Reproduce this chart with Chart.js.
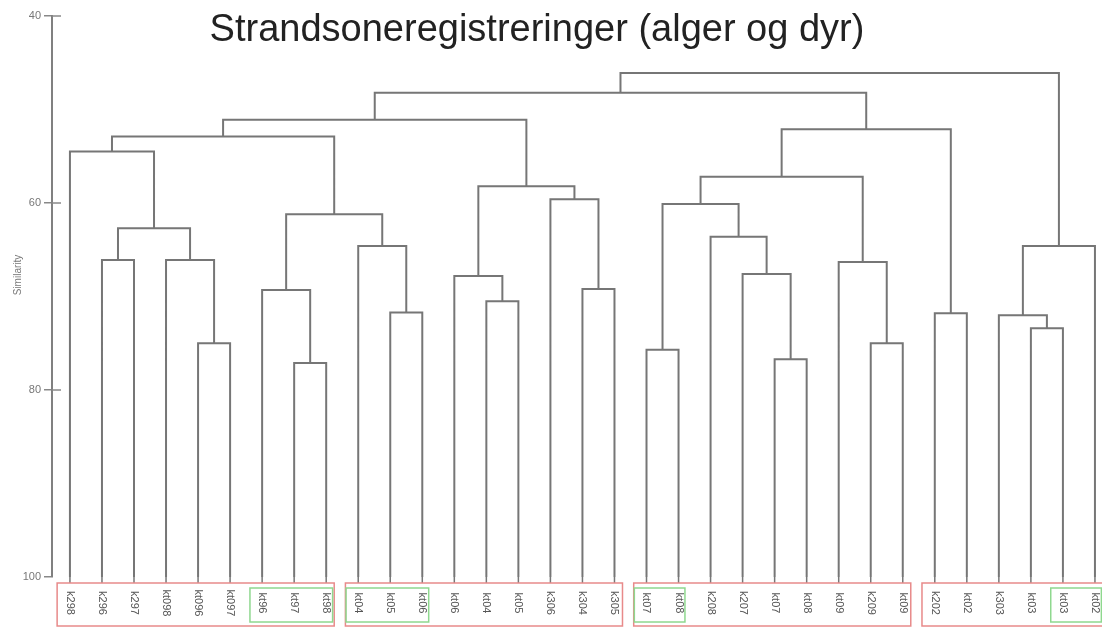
<!DOCTYPE html>
<html>
<head>
<meta charset="utf-8">
<script src="https://cdn.jsdelivr.net/npm/chart.js@4.4.1/dist/chart.umd.min.js"></script>
<style>
  html, body { margin: 0; padding: 0; background: #fff; }
  #wrap { width: 1102px; height: 628px; }
</style>
</head>
<body>
<div id="wrap"><canvas id="dendro"></canvas></div>
<script>
// leaves, left to right
const leafLabels = [
  'k298', 'k296', 'k297', 'kt098', 'kt096', 'kt097', 'kt96', 'kt97', 'kt98',
  'kt04', 'kt05', 'kt06', 'kt06', 'kt04', 'kt05', 'k306', 'k304', 'k305',
  'kt07', 'kt08', 'k208', 'k207', 'kt07', 'kt08', 'kt09', 'k209', 'kt09',
  'k202', 'kt02', 'k303', 'kt03', 'kt03', 'kt02'
];

// merges: node ids 0..32 are leaves, merge k creates node 33 + k
const mergeLeft   = [4, 3, 1, 35, 0, 7, 6, 10, 9, 39, 37, 13, 12, 16, 15, 45, 43, 18, 22, 21, 20, 50, 25, 24, 54, 27, 57, 49, 30, 29, 62, 60];
const mergeRight  = [5, 33, 2, 34, 36, 8, 38, 11, 40, 41, 42, 14, 44, 17, 46, 47, 48, 19, 23, 51, 52, 53, 26, 55, 56, 28, 58, 59, 31, 61, 32, 63];
const mergeHeight = [75.0, 66.1, 66.1, 62.7, 54.5, 77.1, 69.3, 71.7, 64.6, 61.2, 52.9, 70.5, 67.8, 69.2, 59.6, 58.2, 51.1,
                     75.7, 76.7, 67.6, 63.6, 60.1, 75.0, 66.3, 57.2, 71.8, 52.1, 48.2, 73.4, 72.0, 64.6, 46.1];

const yTicks = [40, 60, 80, 100];

// boxes round groups of leaves (first, last)
const redGroups = [[0, 8], [9, 17], [18, 26], [27, 32]];
const greenGroups = [[6, 8], [9, 11], [18, 19], [31, 32]];

// build the elbow segments from the merge list
const nodeX = leafLabels.map((_, i) => i);
const nodeY = leafLabels.map(() => 100);
const segs = [];
mergeLeft.forEach((l, k) => {
  const r = mergeRight[k], h = mergeHeight[k];
  segs.push(
    {x: nodeX[l], y: nodeY[l]}, {x: nodeX[l], y: h},
    {x: nodeX[r], y: h}, {x: nodeX[r], y: nodeY[r]},
    {x: nodeX[r], y: null}
  );
  nodeX.push((nodeX[l] + nodeX[r]) / 2);
  nodeY.push(h);
});

const decor = {
  id: 'decor',
  afterDraw(chart) {
    const ctx = chart.ctx, xs = chart.scales.x, ys = chart.scales.y, area = chart.chartArea;
    const base = area.bottom;
    ctx.save();

    // title
    ctx.fillStyle = '#222';
    ctx.font = '38px "Liberation Sans", Arial, sans-serif';
    ctx.textAlign = 'center';
    ctx.textBaseline = 'alphabetic';
    ctx.fillText('Strandsoneregistreringer (alger og dyr)', 537, 41);

    // y title
    ctx.save();
    ctx.translate(18, 275);
    ctx.rotate(-Math.PI / 2);
    ctx.font = '10px "Liberation Sans", Arial, sans-serif';
    ctx.fillStyle = '#777';
    ctx.textAlign = 'center';
    ctx.textBaseline = 'middle';
    ctx.fillText('Similarity', 0, 0);
    ctx.restore();

    // y ticks cross the axis a little
    ctx.strokeStyle = '#888';
    ctx.lineWidth = 1.5;
    yTicks.slice(0, -1).forEach(v => {
      const py = ys.getPixelForValue(v);
      ctx.beginPath();
      ctx.moveTo(area.left, py);
      ctx.lineTo(area.left + 9, py);
      ctx.stroke();
    });

    // leaf ticks and labels
    ctx.strokeStyle = '#777';
    ctx.font = '11px "Liberation Sans", Arial, sans-serif';
    ctx.fillStyle = '#555';
    leafLabels.forEach((lab, i) => {
      const px = xs.getPixelForValue(i);
      ctx.beginPath();
      ctx.moveTo(px, base);
      ctx.lineTo(px, base + 6);
      ctx.stroke();
      ctx.save();
      ctx.translate(px, base + 26);
      ctx.rotate(Math.PI / 2);
      ctx.textAlign = 'center';
      ctx.textBaseline = 'middle';
      ctx.fillText(lab, 0, 0);
      ctx.restore();
    });

    // group boxes
    ctx.lineWidth = 1.5;
    ctx.strokeStyle = '#e88a8a';
    redGroups.forEach(([a, b]) => {
      const x0 = xs.getPixelForValue(a - 0.4), x1 = xs.getPixelForValue(b + 0.25);
      ctx.strokeRect(x0, base + 6, x1 - x0, 43);
    });
    ctx.strokeStyle = '#8fd88f';
    greenGroups.forEach(([a, b]) => {
      const x0 = xs.getPixelForValue(a - 0.38), x1 = xs.getPixelForValue(b + 0.2);
      ctx.strokeRect(x0, base + 11, x1 - x0, 34);
    });
    ctx.restore();
  }
};

new Chart(document.getElementById('dendro'), {
  type: 'line',
  data: {
    datasets: [{
      data: segs,
      borderColor: '#767676',
      borderWidth: 2,
      pointRadius: 0,
      tension: 0,
      spanGaps: false,
      borderJoinStyle: 'miter'
    }]
  },
  options: {
    responsive: true,
    maintainAspectRatio: false,
    animation: false,
    layout: { padding: { top: 16, bottom: 51, left: 0, right: 0 } },
    plugins: { legend: { display: false }, tooltip: { enabled: false } },
    scales: {
      x: { type: 'linear', min: -0.56, max: 32.22, display: false },
      y: {
        min: 40, max: 100, reverse: true,
        afterBuildTicks: s => { s.ticks = yTicks.map(v => ({ value: v })); },
        afterFit: s => { s.width = 52; },
        ticks: { color: '#777', font: { size: 11 }, padding: 3 },
        grid: { drawOnChartArea: false, tickLength: 8, color: '#888', lineWidth: 1.5 },
        border: { color: '#808080', width: 2 }
      }
    }
  },
  plugins: [decor]
});
</script>
</body>
</html>
